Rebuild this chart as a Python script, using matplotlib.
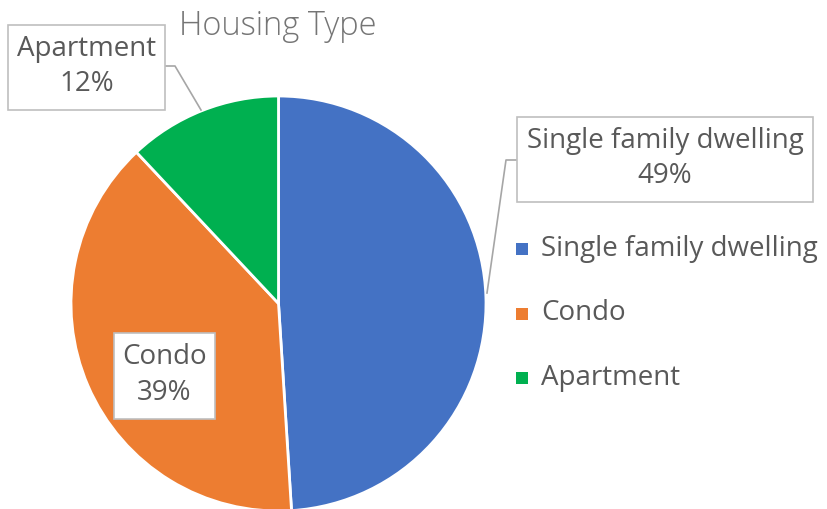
import matplotlib.pyplot as plt
from matplotlib.patches import Rectangle

# Data
categories = ["Single family dwelling", "Condo", "Apartment"]
shares = [49, 39, 12]
colors = ["#4472C4", "#ED7D31", "#00B050"]

W, H = 828, 509
fig = plt.figure(figsize=(W / 100, H / 100), dpi=100)
ax = fig.add_axes([0, 0, 1, 1])
ax.set_xlim(0, W)
ax.set_ylim(0, H)
ax.set_aspect("equal")
ax.axis("off")

txt = "#595959"
font = "Open Sans"

# pie (pixel coordinates, y up)
cx, cy, r = 278.5, H - 303.5, 207.5
ax.pie(shares, colors=colors, startangle=90, counterclock=False,
       center=(cx, cy), radius=r,
       wedgeprops=dict(edgecolor="white", linewidth=2))
ax.set_xlim(0, W)
ax.set_ylim(0, H)

ax.text(278, H - 26, "Housing Type", ha="center", va="center",
        fontsize=23.5, color="#757575", family=font, fontweight="light")

# data label boxes (x0, y0 top, x1, y1 bottom in image pixels)
boxes = [(517, 117, 813, 202), (114, 333, 215, 419), (8, 25, 165, 110)]
for (x0, y0, x1, y1), name, val in zip(boxes, categories, shares):
    ax.add_patch(Rectangle((x0, H - y1), x1 - x0, y1 - y0, facecolor="white",
                           edgecolor="#BFBFBF", linewidth=1.2, zorder=5))
    ax.text((x0 + x1) / 2, H - (y0 + y1) / 2 + 1, f"{name}\n{val}%", ha="center",
            va="center", fontsize=20, color=txt, family=font,
            linespacing=1.35, zorder=6)

# leader lines
ax.plot([517, 506, 487], [H - 160, H - 160, H - 293], color="#A6A6A6", lw=1.2)
ax.plot([165, 175, 201], [H - 66, H - 66, H - 110], color="#A6A6A6", lw=1.2)

# legend
for i, (name, c) in enumerate(zip(categories, colors)):
    y = H - (249 + 64.5 * i)
    ax.add_patch(Rectangle((516, y - 6), 12, 12, facecolor=c, edgecolor="none"))
    ax.text(541, y, name, ha="left", va="center", fontsize=20,
            color=txt, family=font)

fig.savefig("out.png", dpi=100)
